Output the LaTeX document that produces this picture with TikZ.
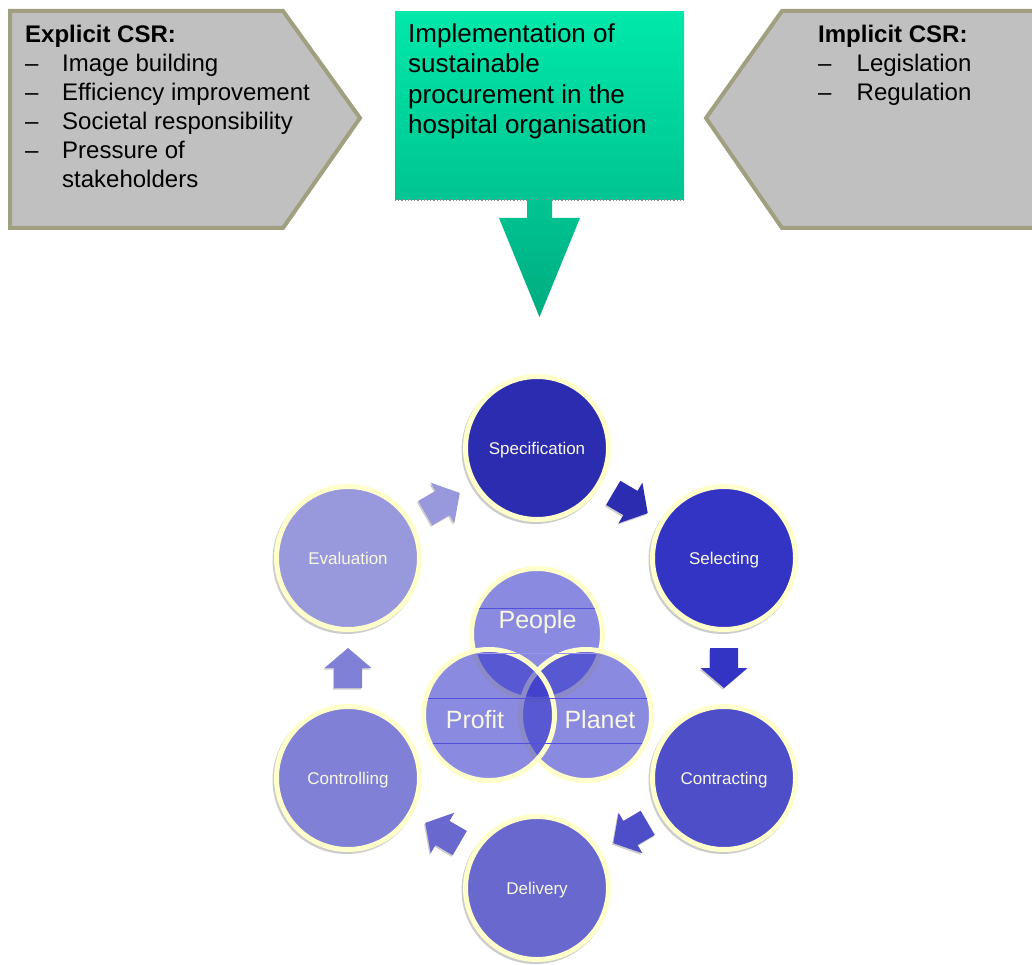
\documentclass[tikz,border=0pt]{standalone}
\usepackage{fontspec}
\setmainfont{Liberation Sans}
\usetikzlibrary{calc}
\definecolor{csrgray}{RGB}{192,192,192}
\definecolor{csrborder}{RGB}{160,160,128}
\definecolor{ringyellow}{RGB}{255,255,204}
\definecolor{cSpec}{RGB}{44,44,176}
\definecolor{cSel}{RGB}{52,52,196}
\definecolor{cCon}{RGB}{78,78,200}
\definecolor{cDel}{RGB}{104,104,206}
\definecolor{cCtrl}{RGB}{128,128,214}
\definecolor{cEval}{RGB}{152,152,220}
\definecolor{lbl}{RGB}{248,248,226}
\definecolor{greenTop}{RGB}{0,232,170}
\definecolor{greenBot}{RGB}{0,196,146}
\definecolor{greenTip}{RGB}{0,172,128}
\definecolor{vennblue}{RGB}{50,50,200}
\definecolor{vennline}{RGB}{80,80,220}
\begin{document}
\begin{tikzpicture}[x=1pt,y=-1pt,
  stage/.style={circle, minimum size=143pt, inner sep=0pt, draw=ringyellow,
    line width=5pt, text=lbl, text height=12.5pt, text depth=0pt,
    font=\fontsize{17}{20}\selectfont},
  stageshadow/.style={circle, minimum size=148pt, inner sep=0pt, fill=black!20},
  venn/.style={circle, minimum size=131pt, inner sep=0pt, draw=ringyellow,
    line width=5pt, fill=vennblue, fill opacity=0.57, draw opacity=1},
  vennlbl/.style={text=lbl, anchor=base, inner sep=0pt, font=\fontsize{25}{28}\selectfont},
  csrtext/.style={anchor=north west, inner sep=0pt, align=left, font=\fontsize{24}{29}\selectfont},
  flowarrow/.pic={\path[pic actions] (-20,-14) -- (0,-14) -- (0,-23.5) -- (20,0)
      -- (0,23.5) -- (0,14) -- (-20,14) -- cycle;},
]
\useasboundingbox (0,0) rectangle (1032,965);

% ---- CSR pentagons
\draw[fill=csrgray, draw=csrborder, line width=4pt, line join=miter]
  (10,11) -- (283,11) -- (360,118) -- (283,228) -- (10,228) -- cycle;
\draw[fill=csrgray, draw=csrborder, line width=4pt, line join=miter]
  (1045,11) -- (782,11) -- (706,118) -- (782,228) -- (1045,228) -- cycle;
\node[csrtext] (explicit) at (25,24.5) {{\bfseries Explicit CSR:}\\
  \makebox[37pt][l]{–}Image building\\
  \makebox[37pt][l]{–}Efficiency improvement\\
  \makebox[37pt][l]{–}Societal responsibility\\
  \makebox[37pt][l]{–}Pressure of\\
  \hspace*{37pt}stakeholders};
\node[csrtext] (implicit) at (818,24.5) {{\bfseries Implicit CSR:}\\
  \makebox[38.5pt][l]{–}Legislation\\
  \makebox[38.5pt][l]{–}Regulation};

% ---- green implementation box and arrow
\shade[top color=greenTop, bottom color=greenBot] (395,12) rectangle (684,200);
\coordinate (implS) at (539.5,200);
\coordinate (implTip) at (539.5,317);
\draw[black!45, dotted, line width=1.2pt] (395,200) -- (684,200);
\shade[top color=greenBot, bottom color=greenTip]
  ($(implS)+(-12.5,0)$) -- ($(implS)+(12.5,0)$) -- ($(implS)+(12.5,18)$) -- ($(implS)+(40.5,18)$)
  -- (implTip) -- ($(implS)+(-40.5,18)$) -- ($(implS)+(-12.5,18)$) -- cycle;
\node[anchor=north west, inner sep=0pt, align=left, font=\fontsize{26}{30.5}\selectfont]
  (impl) at (408,23) {Implementation of\\sustainable\\procurement in the\\hospital organisation};

% ---- process circles
\foreach \cx/\cy in {537/448,724/558,724/778,537/888,348/778,348/558}
  \node[stageshadow] at (\cx-1.5,\cy+2) {};
\node[stage, fill=cSpec] (spec) at (537,448) {Specification};
\node[stage, fill=cSel]  (sel)  at (724,558) {Selecting};
\node[stage, fill=cCon]  (con)  at (724,778) {Contracting};
\node[stage, fill=cDel]  (del)  at (537,888) {Delivery};
\node[stage, fill=cCtrl] (ctrl) at (348,778) {Controlling};
\node[stage, fill=cEval] (eval) at (348,558) {Evaluation};

% ---- flow arrows between circles
\foreach \a/\b/\c in {spec/sel/cSpec, sel/con/cSel, con/del/cCon, del/ctrl/cDel, ctrl/eval/cCtrl, eval/spec/cEval}{
  \path let \p1=($(\b)-(\a)$), \n1={atan2(\y1,\x1)} in
    ($(\a)!0.5!(\b)$) pic[shift={(-1.2,1.6)}, rotate=\n1, fill=black!20] {flowarrow}
    ($(\a)!0.5!(\b)$) pic[rotate=\n1, fill=\c] {flowarrow};
}

% ---- Venn diagram
\node[venn] (people) at (537,634) {};
\node[venn] (planet) at (586,715) {};
\node[venn] (profit) at (489,715) {};
\begin{scope}
  \clip (537,634) circle (63);
  \draw[vennline, line width=0.7pt] (460,608) -- (620,608);
  \draw[vennline!60, line width=0.5pt] (460,653) -- (620,653);
\end{scope}
\begin{scope}
  \clip (489,715) circle (63);
  \draw[vennline, line width=0.7pt] (420,698) -- (660,698) (420,743) -- (660,743);
\end{scope}
\begin{scope}
  \clip (586,715) circle (63);
  \draw[vennline, line width=0.7pt] (420,698) -- (660,698) (420,743) -- (660,743);
\end{scope}
\node[vennlbl] (peoplelbl) at (537.5,628) {People};
\node[vennlbl] (profitlbl) at (475,728) {Profit};
\node[vennlbl] (planetlbl) at (600,728) {Planet};
\end{tikzpicture}
\end{document}
